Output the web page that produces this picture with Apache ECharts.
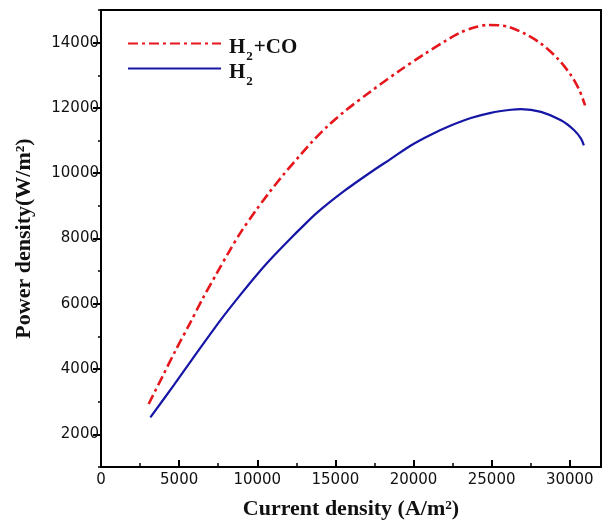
<!DOCTYPE html>
<html>
<head>
<meta charset="utf-8">
<script src="https://cdn.jsdelivr.net/npm/echarts@6/dist/echarts.min.js"></script>
<style>
html,body{margin:0;padding:0;background:#fff;}
#chart{width:605px;height:529px;}
</style>
</head>
<body>
<div id="chart"></div>
<script>
// H2+CO series (red dash-dot)
const coX = [3050, 3900, 4760, 5700, 6500, 7440, 8200, 8930, 9900, 10800, 11700, 12670, 13500, 14500, 15550, 17300, 19190, 20700, 22000, 23000, 24000, 24700, 25500, 26100, 27100, 28160, 29230, 30080, 30620, 30980];
const coY = [2930, 3740, 4560, 5410, 6150, 6960, 7600, 8180, 8850, 9430, 9970, 10510, 10960, 11440, 11880, 12520, 13170, 13650, 14040, 14310, 14480, 14540, 14530, 14480, 14280, 13970, 13510, 13000, 12540, 12080];
// H2 series (blue solid)
const h2X = [3160, 4650, 6150, 7650, 8930, 10100, 11060, 12130, 12780, 13850, 15550, 17260, 18550, 19830, 21110, 22390, 23670, 24950, 26240, 26880, 28160, 29440, 30300, 30720, 30900];
const h2Y = [2520, 3500, 4510, 5500, 6280, 6960, 7470, 8000, 8310, 8800, 9450, 10030, 10440, 10850, 11180, 11460, 11690, 11850, 11945, 11965, 11880, 11620, 11310, 11060, 10850];
const seriesNames = ['H₂+CO', 'H₂'];
const yTickLabels = [2000, 4000, 6000, 8000, 10000, 12000, 14000];

const pairs = (xs, ys) => xs.map((x, i) => [x, ys[i]]);
const serif = '"Liberation Serif", "Times New Roman", serif';
const sans = '"DejaVu Sans", sans-serif';

const chart = echarts.init(document.getElementById('chart'), null, {renderer: 'canvas'});
chart.setOption({
  backgroundColor: '#fff',
  animation: false,
  grid: {left: 101, top: 10, width: 500, height: 457, show: true, borderColor: '#000', borderWidth: 2, containLabel: false},
  legend: {
    orient: 'vertical', left: 127, top: 24, padding: 0, itemWidth: 93, itemHeight: 14, itemGap: -14,
    data: seriesNames,
    itemStyle: {opacity: 0},
    formatter: function (n) { return n === 'H₂+CO' ? '{a|H}{s|2}{a|+CO}' : '{a|H}{s|2}'; },
    textStyle: {
      padding: [0, 0, 0, 3],
      rich: {
        a: {fontFamily: serif, fontWeight: 'bold', fontSize: 21, color: '#111', lineHeight: 20, padding: [9, 0, 0, 0]},
        s: {fontFamily: serif, fontWeight: 'bold', fontSize: 13, color: '#111', lineHeight: 20, padding: [26, 1, 0, 1]}
      }
    }
  },
  xAxis: {
    type: 'value', min: 0, max: 32000, interval: 5000,
    name: 'Current density (A/m²)', nameLocation: 'middle', nameGap: 31,
    nameTextStyle: {fontFamily: serif, fontWeight: 'bold', fontSize: 22, color: '#111'},
    axisLine: {show: true, onZero: false, lineStyle: {color: '#000', width: 2}},
    axisTick: {show: true, inside: true, length: 7, lineStyle: {color: '#000', width: 2}},
    minorTick: {show: true, splitNumber: 2, length: 4, lineStyle: {color: '#000', width: 1.5}},
    splitLine: {show: false},
    axisLabel: {fontFamily: sans, fontSize: 15, color: '#111', margin: 6, showMaxLabel: false,
      formatter: function (v) { return v % 5000 === 0 ? String(v) : ''; }}
  },
  yAxis: [{
    type: 'value', min: 1000, max: 15000, interval: 1000,
    name: 'Power density(W/m²)', nameLocation: 'middle', nameGap: 66,
    nameTextStyle: {fontFamily: serif, fontWeight: 'bold', fontSize: 22, color: '#111'},
    axisLine: {show: true, onZero: false, lineStyle: {color: '#000', width: 2}},
    axisTick: {show: true, inside: false, length: 3, lineStyle: {color: '#000', width: 1.5}},
    splitLine: {show: false},
    axisLabel: {show: false}
  }, {
    type: 'value', min: 1000, max: 15000, interval: 1000, position: 'left',
    axisLine: {show: false},
    axisTick: {show: true, inside: false, length: 8, customValues: yTickLabels, lineStyle: {color: '#000', width: 2}},
    splitLine: {show: false},
    axisLabel: {show: true, customValues: yTickLabels, fontFamily: sans, fontSize: 15, color: '#111', margin: 2,
      formatter: function (v) { return String(v); }}
  }],
  series: [{
    name: seriesNames[0], type: 'line', smooth: 0.3, symbol: 'none', yAxisIndex: 0,
    data: pairs(coX, coY),
    lineStyle: {color: '#e5161c', width: 2.6, type: [10, 4, 3, 4]},
    itemStyle: {color: '#e5161c'}
  }, {
    name: seriesNames[1], type: 'line', smooth: 0.3, symbol: 'none', yAxisIndex: 0,
    data: pairs(h2X, h2Y),
    lineStyle: {color: '#1616a6', width: 2.2, type: 'solid'},
    itemStyle: {color: '#1616a6'}
  }]
});
</script>
</body>
</html>
